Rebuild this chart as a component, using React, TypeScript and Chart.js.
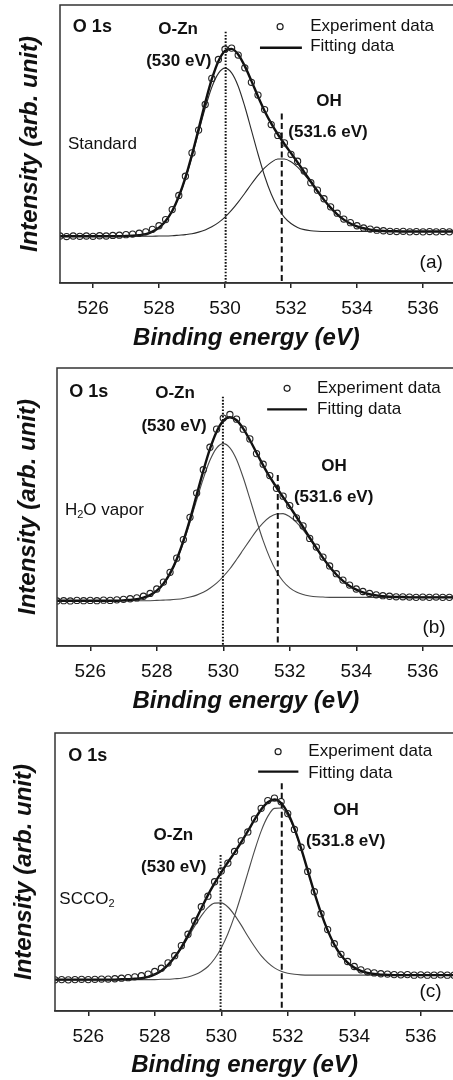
import React, { useEffect, useRef } from "react";
import { Chart, registerables } from "chart.js";

Chart.register(...registerables);

const FONT = '"Liberation Sans", Arial, Helvetica, sans-serif';
Chart.defaults.font.family = FONT;
Chart.defaults.color = "#111";

// ---------------- data ----------------
const energy = [
  525, 525.2, 525.4, 525.6, 525.8, 526, 526.2, 526.4, 526.6, 526.8,
  527, 527.2, 527.4, 527.6, 527.8, 528, 528.2, 528.4, 528.6, 528.8,
  529, 529.2, 529.4, 529.6, 529.8, 530, 530.2, 530.4, 530.6, 530.8,
  531, 531.2, 531.4, 531.6, 531.8, 532, 532.2, 532.4, 532.6, 532.8,
  533, 533.2, 533.4, 533.6, 533.8, 534, 534.2, 534.4, 534.6, 534.8,
  535, 535.2, 535.4, 535.6, 535.8, 536, 536.2, 536.4, 536.6, 536.8,
  537,
];
const xTicks = [526, 528, 530, 532, 534, 536];
const xTitle = "Binding energy (eV)";
const yTitle = "Intensity (arb. unit)";

// (a) Standard
const expA = [
  16.9, 16.7, 16.9, 16.8, 16.9, 16.8, 17.0, 16.9, 17.1, 17.2,
  17.4, 17.6, 17.9, 18.4, 19.3, 20.6, 22.8, 26.4, 31.5, 38.4,
  46.8, 55.0, 64.2, 73.6, 80.4, 84.1, 84.5, 82.0, 77.4, 72.2,
  67.6, 62.4, 57.0, 53.1, 50.4, 46.3, 43.8, 40.3, 36.1, 33.4,
  30.3, 27.4, 25.1, 23.0, 21.7, 20.6, 19.8, 19.4, 19.0, 18.8,
  18.6, 18.5, 18.6, 18.4, 18.5, 18.4, 18.5, 18.4, 18.5, 18.4,
  18.5,
];
const fitA = [
  16.8, 16.8, 16.8, 16.8, 16.8, 16.8, 16.8, 16.8, 16.8, 16.8,
  16.9, 17.0, 17.2, 17.6, 18.5, 19.9, 22.3, 25.9, 31.1, 37.9,
  46.2, 55.4, 64.8, 73.3, 79.8, 83.5, 84.2, 82.2, 78.0, 72.7,
  67.1, 61.9, 57.4, 53.5, 50.0, 46.7, 43.4, 39.9, 36.5, 33.1,
  29.9, 27.1, 24.7, 22.8, 21.4, 20.4, 19.7, 19.2, 18.9, 18.7,
  18.6, 18.6, 18.5, 18.5, 18.5, 18.5, 18.5, 18.5, 18.5, 18.5,
  18.5,
];
const oznA = [
  16.8, 16.8, 16.8, 16.8, 16.8, 16.8, 16.8, 16.8, 16.8, 16.8,
  16.9, 17.0, 17.2, 17.6, 18.4, 19.9, 22.2, 25.8, 30.9, 37.5,
  45.5, 54.3, 62.9, 70.4, 75.4, 77.3, 75.6, 70.8, 63.5, 55.0,
  46.4, 38.5, 32.0, 27.1, 23.6, 21.4, 20.0, 19.2, 18.8, 18.6,
  18.5, 18.5, 18.5, 18.5, 18.5, 18.5, 18.5, 18.5, 18.5, 18.5,
  18.5, 18.5, 18.5, 18.5, 18.5, 18.5, 18.5, 18.5, 18.5, 18.5,
  18.5,
];
const ohA = [
  16.8, 16.8, 16.8, 16.8, 16.8, 16.8, 16.8, 16.8, 16.8, 16.8,
  16.8, 16.8, 16.8, 16.8, 16.8, 16.9, 16.9, 17.0, 17.2, 17.4,
  17.7, 18.3, 19.1, 20.2, 21.7, 23.7, 26.2, 29.1, 32.3, 35.6,
  38.7, 41.4, 43.4, 44.6, 44.6, 43.6, 41.7, 39.1, 36.1, 32.9,
  29.8, 27.1, 24.7, 22.8, 21.4, 20.4, 19.7, 19.2, 18.9, 18.7,
  18.6, 18.6, 18.5, 18.5, 18.5, 18.5, 18.5, 18.5, 18.5, 18.5,
  18.5,
];

// (b) H2O vapor
const expB = [
  16.2, 16.3, 16.2, 16.4, 16.3, 16.4, 16.3, 16.5, 16.4, 16.6,
  16.8, 17.0, 17.3, 17.9, 18.9, 20.5, 23.0, 26.5, 31.6, 38.3,
  46.3, 55.0, 63.4, 71.5, 78.0, 82.0, 83.3, 81.6, 78.0, 74.5,
  69.2, 65.4, 61.3, 56.7, 53.9, 50.5, 46.1, 43.2, 38.7, 35.6,
  32.0, 28.8, 26.0, 23.7, 21.9, 20.5, 19.6, 18.9, 18.4, 18.1,
  17.9, 17.7, 17.7, 17.6, 17.5, 17.6, 17.5, 17.6, 17.5, 17.5,
  17.6,
];
const fitB = [
  16.3, 16.3, 16.3, 16.3, 16.3, 16.3, 16.3, 16.3, 16.3, 16.3,
  16.4, 16.6, 16.8, 17.4, 18.3, 19.9, 22.4, 26.1, 31.2, 37.8,
  45.6, 54.3, 63.0, 70.9, 77.1, 81.0, 82.3, 81.2, 78.2, 74.1,
  69.5, 65.0, 60.8, 57.1, 53.5, 50.1, 46.5, 42.8, 39.0, 35.3,
  31.7, 28.5, 25.7, 23.4, 21.6, 20.3, 19.3, 18.6, 18.2, 17.9,
  17.7, 17.6, 17.6, 17.5, 17.5, 17.5, 17.5, 17.5, 17.5, 17.5,
  17.5,
];
const oznB = [
  16.3, 16.3, 16.3, 16.3, 16.3, 16.3, 16.3, 16.3, 16.3, 16.3,
  16.4, 16.6, 16.8, 17.3, 18.3, 19.8, 22.3, 25.9, 30.8, 37.1,
  44.5, 52.5, 60.2, 66.8, 71.2, 72.8, 71.3, 67.1, 60.6, 53.0,
  45.2, 37.9, 31.7, 26.8, 23.3, 20.9, 19.4, 18.5, 18.0, 17.7,
  17.6, 17.5, 17.5, 17.5, 17.5, 17.5, 17.5, 17.5, 17.5, 17.5,
  17.5, 17.5, 17.5, 17.5, 17.5, 17.5, 17.5, 17.5, 17.5, 17.5,
  17.5,
];
const ohB = [
  16.3, 16.3, 16.3, 16.3, 16.3, 16.3, 16.3, 16.3, 16.3, 16.3,
  16.3, 16.3, 16.3, 16.3, 16.3, 16.4, 16.5, 16.6, 16.8, 17.1,
  17.6, 18.3, 19.3, 20.8, 22.6, 25.0, 27.8, 31.1, 34.6, 38.1,
  41.5, 44.3, 46.4, 47.5, 47.6, 46.5, 44.5, 41.8, 38.5, 35.0,
  31.6, 28.4, 25.7, 23.4, 21.6, 20.3, 19.3, 18.6, 18.2, 17.9,
  17.7, 17.6, 17.6, 17.5, 17.5, 17.5, 17.5, 17.5, 17.5, 17.5,
  17.5,
];

// (c) SCCO2
const expC = [
  11.2, 11.3, 11.2, 11.3, 11.4, 11.3, 11.4, 11.5, 11.5, 11.6,
  11.8, 12.0, 12.3, 12.7, 13.3, 14.2, 15.4, 17.3, 19.9, 23.5,
  27.6, 32.4, 37.5, 41.3, 46.5, 50.4, 53.2, 57.4, 61.2, 64.4,
  69.1, 72.9, 75.7, 76.6, 75.3, 71.0, 65.3, 58.9, 50.2, 42.9,
  35.0, 29.3, 24.2, 20.4, 17.8, 16.0, 14.8, 14.1, 13.7, 13.4,
  13.3, 13.1, 13.0, 13.1, 12.9, 13.0, 12.9, 12.9, 13.0, 12.9,
  12.9,
];
const fitC = [
  11.3, 11.3, 11.3, 11.3, 11.3, 11.3, 11.3, 11.3, 11.3, 11.3,
  11.4, 11.4, 11.6, 11.8, 12.3, 13.2, 14.5, 16.6, 19.4, 22.9,
  27.2, 32.0, 36.9, 41.7, 46.0, 49.9, 53.5, 57.0, 60.7, 64.7,
  68.8, 72.5, 75.1, 76.1, 74.8, 71.3, 65.7, 58.6, 50.6, 42.6,
  35.3, 29.0, 23.9, 20.1, 17.4, 15.6, 14.4, 13.7, 13.3, 13.1,
  13.0, 12.9, 12.9, 12.9, 12.9, 12.9, 12.9, 12.9, 12.9, 12.9,
  12.9,
];
const oznC = [
  11.3, 11.3, 11.3, 11.3, 11.3, 11.3, 11.3, 11.3, 11.3, 11.3,
  11.4, 11.4, 11.6, 11.8, 12.3, 13.2, 14.5, 16.5, 19.2, 22.5,
  26.4, 30.5, 34.2, 37.2, 38.8, 38.9, 37.4, 34.5, 30.9, 26.9,
  23.2, 19.9, 17.4, 15.5, 14.3, 13.6, 13.2, 13.0, 12.9, 12.9,
  12.9, 12.9, 12.9, 12.9, 12.9, 12.9, 12.9, 12.9, 12.9, 12.9,
  12.9, 12.9, 12.9, 12.9, 12.9, 12.9, 12.9, 12.9, 12.9, 12.9,
  12.9,
];
const ohC = [
  11.3, 11.3, 11.3, 11.3, 11.3, 11.3, 11.3, 11.3, 11.3, 11.3,
  11.3, 11.3, 11.3, 11.3, 11.3, 11.3, 11.4, 11.4, 11.6, 11.8,
  12.2, 13.0, 14.2, 16.0, 18.8, 22.7, 27.8, 34.2, 41.7, 49.7,
  57.6, 64.7, 70.0, 72.9, 73.0, 70.3, 65.2, 58.3, 50.5, 42.6,
  35.3, 29.0, 23.9, 20.1, 17.4, 15.6, 14.4, 13.7, 13.3, 13.1,
  13.0, 12.9, 12.9, 12.9, 12.9, 12.9, 12.9, 12.9, 12.9, 12.9,
  12.9,
];

// peak reference energies (eV)
const oznPeakA = 530.02;
const ohPeakA = 531.72;
const oznPeakB = 529.99;
const ohPeakB = 531.64;
const oznPeakC = 529.98;
const ohPeakC = 531.82;

// ---------------- layout / text ----------------
type Seg = { t: string; sub?: boolean };
type Note = { segs: Seg[]; x: number; y: number; align: "left" | "center" | "right"; bold: boolean; size: number };
type Panel = {
  exp: number[]; fit: number[]; c1: number[]; c2: number[];
  top: number; height: number; padTop: number; padBottom: number; padRight: number;
  plotLeft: number; xAxisH: number; yTitlePad: number; compColor: string; xTitleAt: number;
  dotted: { x: number; top: number }; dashed: { x: number; top: number };
  notes: Note[];
  legend: { mx: number; my: number; lx1: number; lx2: number; ly: number; tx: number; ey: number; fy: number };
};

const b = (t: string): Seg[] => [{ t }];

const panels: Panel[] = [
  {
    exp: expA, fit: fitA, c1: oznA, c2: ohA,
    top: 0, height: 353, padTop: 5, padBottom: 0, padRight: 0,
    plotLeft: 60, xAxisH: 70, yTitlePad: 16, compColor: "#2a2a2a", xTitleAt: 530.65,
    dotted: { x: oznPeakA, top: 90.4 }, dashed: { x: ohPeakA, top: 61.0 },
    notes: [
      { segs: b("O 1s"), x: 525.39, y: 92.2, align: "left", bold: true, size: 18 },
      { segs: b("O-Zn"), x: 528.58, y: 91.3, align: "center", bold: true, size: 17 },
      { segs: b("(530 eV)"), x: 528.6, y: 79.9, align: "center", bold: true, size: 17 },
      { segs: b("OH"), x: 533.15, y: 65.2, align: "center", bold: true, size: 17 },
      { segs: b("(531.6 eV)"), x: 533.12, y: 54.1, align: "center", bold: true, size: 17 },
      { segs: b("Standard"), x: 525.24, y: 49.8, align: "left", bold: false, size: 17 },
      { segs: b("(a)"), x: 536.6, y: 7.1, align: "right", bold: false, size: 19 },
    ],
    legend: { mx: 531.67, my: 92.2, lx1: 531.06, lx2: 532.33, ly: 84.6, tx: 532.58, ey: 92.2, fy: 85.0 },
  },
  {
    exp: expB, fit: fitB, c1: oznB, c2: ohB,
    top: 353, height: 363, padTop: 15, padBottom: 0, padRight: 0,
    plotLeft: 57, xAxisH: 70, yTitlePad: 14, compColor: "#4a4a4a", xTitleAt: 530.68,
    dotted: { x: oznPeakB, top: 89.7 }, dashed: { x: ohPeakB, top: 61.5 },
    notes: [
      { segs: b("O 1s"), x: 525.37, y: 91.5, align: "left", bold: true, size: 18 },
      { segs: b("O-Zn"), x: 528.55, y: 90.9, align: "center", bold: true, size: 17 },
      { segs: b("(530 eV)"), x: 528.52, y: 79.2, align: "center", bold: true, size: 17 },
      { segs: b("OH"), x: 533.33, y: 64.5, align: "center", bold: true, size: 17 },
      { segs: b("(531.6 eV)"), x: 533.32, y: 53.4, align: "center", bold: true, size: 17 },
      { segs: [{ t: "H" }, { t: "2", sub: true }, { t: "O vapor" }], x: 525.24, y: 48.9, align: "left", bold: false, size: 17 },
      { segs: b("(b)"), x: 536.69, y: 6.4, align: "right", bold: false, size: 19 },
    ],
    legend: { mx: 531.92, my: 92.7, lx1: 531.32, lx2: 532.52, ly: 85.1, tx: 532.82, ey: 92.7, fy: 85.1 },
  },
  {
    exp: expC, fit: fitC, c1: oznC, c2: ohC,
    top: 716, height: 364, padTop: 17, padBottom: 0, padRight: 2,
    plotLeft: 55, xAxisH: 69, yTitlePad: 10, compColor: "#4a4a4a", xTitleAt: 530.7,
    dotted: { x: oznPeakC, top: 56.1 }, dashed: { x: ohPeakC, top: 81.9 },
    notes: [
      { segs: b("O 1s"), x: 525.4, y: 91.8, align: "left", bold: true, size: 18 },
      { segs: b("OH"), x: 533.75, y: 72.3, align: "center", bold: true, size: 17 },
      { segs: b("(531.8 eV)"), x: 533.74, y: 61.2, align: "center", bold: true, size: 17 },
      { segs: b("O-Zn"), x: 528.56, y: 63.3, align: "center", bold: true, size: 17 },
      { segs: b("(530 eV)"), x: 528.57, y: 51.6, align: "center", bold: true, size: 17 },
      { segs: [{ t: "SCCO" }, { t: "2", sub: true }], x: 525.13, y: 40.3, align: "left", bold: false, size: 17 },
      { segs: b("(c)"), x: 536.63, y: 6.8, align: "right", bold: false, size: 19 },
    ],
    legend: { mx: 531.71, my: 93.3, lx1: 531.11, lx2: 532.32, ly: 86.1, tx: 532.62, ey: 93.3, fy: 85.6 },
  },
];

const INK = "#111";

function drawRich(ctx: CanvasRenderingContext2D, n: Note, px: number, py: number) {
  const fontFor = (sub?: boolean) =>
    `${n.bold ? "bold " : ""}${sub ? Math.round(n.size * 0.65) : n.size}px ${FONT}`;
  let total = 0;
  for (const s of n.segs) {
    ctx.font = fontFor(s.sub);
    total += ctx.measureText(s.t).width;
  }
  let x = n.align === "center" ? px - total / 2 : n.align === "right" ? px - total : px;
  ctx.textAlign = "left";
  ctx.textBaseline = "middle";
  ctx.fillStyle = INK;
  for (const s of n.segs) {
    ctx.font = fontFor(s.sub);
    ctx.fillText(s.t, x, py + (s.sub ? n.size * 0.3 : 0));
    x += ctx.measureText(s.t).width;
  }
}

function makeDecor(p: Panel) {
  return {
    id: "decor",
    afterDatasetsDraw(chart: any) {
      const { ctx, chartArea: a, scales } = chart;
      const xs = scales.x;
      const ys = scales.y;
      ctx.save();
      // vertical reference lines
      ctx.strokeStyle = INK;
      ctx.lineWidth = 2;
      ctx.setLineDash([1.6, 1.6]);
      ctx.beginPath();
      ctx.moveTo(xs.getPixelForValue(p.dotted.x), ys.getPixelForValue(p.dotted.top));
      ctx.lineTo(xs.getPixelForValue(p.dotted.x), a.bottom);
      ctx.stroke();
      ctx.setLineDash([6, 3.5]);
      ctx.beginPath();
      ctx.moveTo(xs.getPixelForValue(p.dashed.x), ys.getPixelForValue(p.dashed.top));
      ctx.lineTo(xs.getPixelForValue(p.dashed.x), a.bottom);
      ctx.stroke();
      ctx.setLineDash([]);
      // frame
      ctx.strokeStyle = "#333";
      ctx.lineWidth = 1.5;
      ctx.strokeRect(a.left, a.top, a.right - a.left, a.bottom - a.top);
      // legend
      const L = p.legend;
      ctx.strokeStyle = "#222";
      ctx.lineWidth = 1.2;
      ctx.beginPath();
      ctx.arc(xs.getPixelForValue(L.mx), ys.getPixelForValue(L.my), 3, 0, Math.PI * 2);
      ctx.stroke();
      ctx.lineWidth = 2.4;
      ctx.strokeStyle = INK;
      ctx.beginPath();
      ctx.moveTo(xs.getPixelForValue(L.lx1), ys.getPixelForValue(L.ly));
      ctx.lineTo(xs.getPixelForValue(L.lx2), ys.getPixelForValue(L.ly));
      ctx.stroke();
      drawRich(ctx, { segs: b("Experiment data"), x: L.tx, y: L.ey, align: "left", bold: false, size: 17 },
        xs.getPixelForValue(L.tx), ys.getPixelForValue(L.ey));
      drawRich(ctx, { segs: b("Fitting data"), x: L.tx, y: L.fy, align: "left", bold: false, size: 17 },
        xs.getPixelForValue(L.tx), ys.getPixelForValue(L.fy));
      // notes
      for (const n of p.notes) {
        drawRich(ctx, n, xs.getPixelForValue(n.x), ys.getPixelForValue(n.y));
      }
      // x-axis title
      ctx.font = `italic bold 24px ${FONT}`;
      ctx.textAlign = "center";
      ctx.textBaseline = "middle";
      ctx.fillStyle = INK;
      ctx.fillText(xTitle, xs.getPixelForValue(p.xTitleAt), chart.height - p.padBottom - 14.4);
      ctx.restore();
    },
  };
}

const pts = (ys: number[]) => energy.map((x, i) => ({ x, y: ys[i] }));

function PanelChart({ p }: { p: Panel }) {
  const ref = useRef<HTMLCanvasElement>(null);
  useEffect(() => {
    if (!ref.current) return;
    const chart = new Chart(ref.current, {
      type: "line",
      data: {
        datasets: [
          {
            label: "Experiment data",
            data: pts(p.exp),
            showLine: false,
            pointRadius: 3.1,
            pointBorderWidth: 1.1,
            pointBorderColor: "#222",
            pointBackgroundColor: "rgba(255,255,255,0)",
            order: 0,
          },
          {
            label: "Fitting data",
            data: pts(p.fit),
            borderColor: INK,
            borderWidth: 2.4,
            pointRadius: 0,
            cubicInterpolationMode: "monotone",
            order: 1,
          },
          {
            label: "O-Zn",
            data: pts(p.c1),
            borderColor: p.compColor,
            borderWidth: 1.1,
            pointRadius: 0,
            cubicInterpolationMode: "monotone",
            order: 2,
          },
          {
            label: "OH",
            data: pts(p.c2),
            borderColor: p.compColor,
            borderWidth: 1.1,
            pointRadius: 0,
            cubicInterpolationMode: "monotone",
            order: 2,
          },
        ],
      } as any,
      options: {
        responsive: false,
        devicePixelRatio: 1,
        animation: false,
        events: [],
        layout: {
          autoPadding: false,
          padding: { top: p.padTop, bottom: p.padBottom, left: 0, right: p.padRight },
        },
        plugins: { legend: { display: false }, tooltip: { enabled: false } },
        scales: {
          x: {
            type: "linear",
            min: 525,
            max: 537,
            afterBuildTicks: (axis: any) => {
              axis.ticks = xTicks.map((v) => ({ value: v }));
            },
            afterFit: (s: any) => {
              s.height = p.xAxisH;
              s.paddingLeft = 0;
              s.paddingRight = 0;
            },
            ticks: { font: { size: 19 }, color: INK, padding: 9, maxRotation: 0, autoSkip: false },
            grid: { drawOnChartArea: false, drawTicks: true, tickLength: 5, color: "#222", lineWidth: 1.5 },
            border: { display: true, color: "#333", width: 1.5 },
            title: { display: false },
          },
          y: {
            type: "linear",
            min: 0,
            max: 100,
            afterFit: (s: any) => {
              s.width = p.plotLeft;
              s.paddingTop = 0;
              s.paddingBottom = 0;
            },
            ticks: { display: false },
            grid: { display: false },
            border: { display: false },
            title: {
              display: true,
              text: yTitle,
              color: INK,
              font: { size: 24, weight: "bold", style: "italic" },
              padding: { top: p.yTitlePad, bottom: 0 },
            },
          },
        },
      } as any,
      plugins: [makeDecor(p)],
    });
    return () => chart.destroy();
  }, [p]);
  return (
    <canvas
      ref={ref}
      width={456}
      height={p.height}
      style={{ position: "absolute", left: 0, top: p.top, width: 456, height: p.height, display: "block" }}
    />
  );
}

export default function App() {
  return (
    <div
      style={{
        position: "absolute",
        left: 0,
        top: 0,
        width: 453,
        height: 1080,
        overflow: "hidden",
        background: "#fff",
      }}
    >
      {panels.map((p, i) => (
        <PanelChart key={i} p={p} />
      ))}
    </div>
  );
}
